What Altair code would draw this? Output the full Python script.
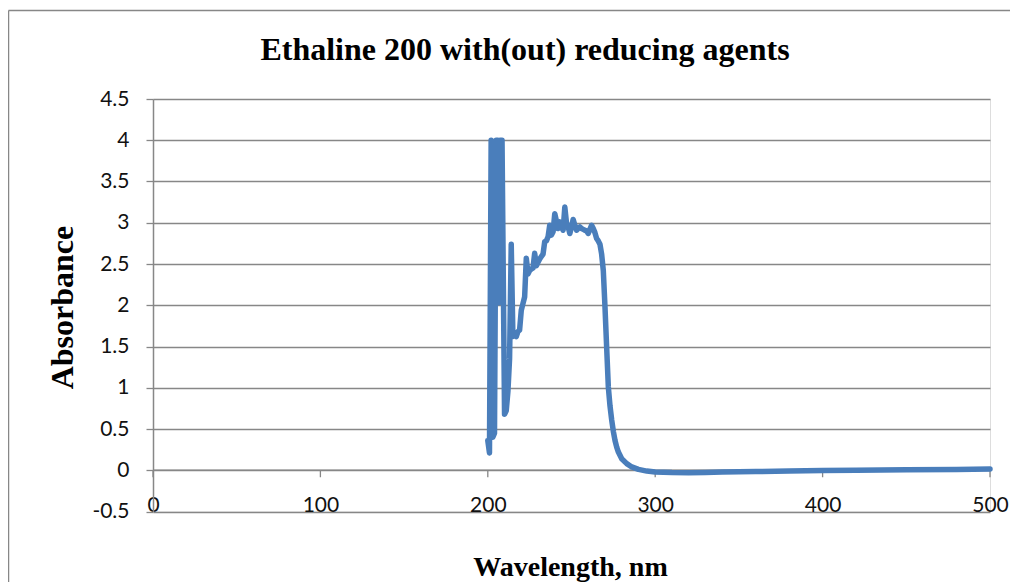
import altair as alt
import pandas as pd

# ---- data ----
wavelength = [200, 201, 202, 203, 204, 205, 206, 206.6, 207.3, 208.5, 210, 211, 212, 213, 214,
              215, 216, 217, 218, 219, 220, 221, 222, 223, 224, 225, 226, 227, 228, 229,
              230, 231, 232, 233, 234, 235, 236, 237, 238, 239, 240, 241, 242, 243, 244,
              245, 246, 247, 248, 249, 250, 251, 252, 253, 254, 255, 256, 257, 258, 259,
              260, 261, 262, 263, 264, 265, 266, 267, 268, 269, 270, 271, 272, 273, 274,
              275, 276, 277, 278, 280, 283, 286, 290, 295, 300, 310, 320, 330, 340, 350,
              360, 380, 400, 420, 450, 480, 500]
absorbance = [0.36, 0.21, 4.0, 0.40, 0.45, 4.0, 4.0, 2.03, 4.0, 4.0, 0.68, 0.72, 0.95, 1.35, 2.74,
              1.62, 1.64, 1.62, 1.68, 1.70, 1.94, 2.02, 2.10, 2.57, 2.38, 2.42, 2.44, 2.45, 2.63, 2.48,
              2.52, 2.56, 2.59, 2.62, 2.77, 2.78, 2.83, 2.97, 2.85, 2.89, 3.11, 3.02, 2.93, 3.01, 2.95,
              2.91, 3.19, 3.00, 2.95, 2.87, 2.95, 3.04, 2.97, 2.91, 2.93, 2.95, 2.93, 2.92, 2.91, 2.90,
              2.87, 2.92, 2.97, 2.93, 2.88, 2.81, 2.78, 2.74, 2.62, 2.42, 1.98, 1.49, 1.01, 0.78, 0.61,
              0.47, 0.36, 0.28, 0.22, 0.14, 0.08, 0.04, 0.01, -0.01, -0.02, -0.028, -0.03, -0.027, -0.022, -0.018,
              -0.015, -0.01, -0.004, 0.0, 0.006, 0.01, 0.014]
x_ticks = [0, 100, 200, 300, 400, 500]
y_ticks = [-0.5, 0, 0.5, 1, 1.5, 2, 2.5, 3, 3.5, 4, 4.5]

title_text = "Ethaline 200 with(out) reducing agents"
x_title = "Wavelength, nm"
y_title = "Absorbance"

GRAY = "#878787"
LINE = "#4A7EBB"
W, H = 837, 412.5

spec_df = pd.DataFrame({"wl": wavelength, "A": absorbance})
axis_df = pd.DataFrame({"wl": [x_ticks[0]], "wl2": [x_ticks[-1]], "A": [0.0]})
tick_df = pd.DataFrame({"wl": x_ticks, "A": [0.0] * len(x_ticks)})
one_df = pd.DataFrame({"label": [title_text]})

x_axis = alt.Axis(
    values=x_ticks, grid=False, ticks=False, tickSize=0, domain=False,
    labelFont="Lato", labelFontSize=21, labelColor="#111111",
    labelBaseline="alphabetic", labelPadding=0, labelFlush=False, labelOverlap=False,
    title=x_title, titleFont="Liberation Serif", titleFontSize=28, titleFontWeight="bold",
    titleColor="#000000", titleX=417, titleY=64, titleAlign="center",
    titleBaseline="alphabetic",
)
y_axis = alt.Axis(
    values=y_ticks, grid=True, gridColor=GRAY, gridWidth=1.4,
    domain=True, domainColor=GRAY, domainWidth=1.5,
    ticks=True, tickColor=GRAY, tickSize=7, tickWidth=1.3,
    labelFont="Lato", labelFontSize=21, labelColor="#111111", labelPadding=17,
    labelExpr="datum.value + ''", labelOverlap=False, labelFlush=False,
    labelBaseline="middle",
    title=y_title, titleFont="Liberation Serif", titleFontSize=32, titleFontWeight="bold",
    titleColor="#000000", titleX=-91, titleY=208, titleAngle=-90,
    titleAlign="center", titleBaseline="middle",
)

x_enc = alt.X("wl:Q", scale=alt.Scale(domain=[0, 500], nice=False, zero=False), axis=x_axis)
y_enc = alt.Y("A:Q", scale=alt.Scale(domain=[-0.5, 4.5], nice=False, zero=False), axis=y_axis)

# outer chart frame (only left and top edges are visible in the reference)
frame_left = alt.Chart(one_df).mark_rule(color=GRAY, strokeWidth=1.5).encode(
    x=alt.value(-144.5), y=alt.value(-88.5), y2=alt.value(500)
)
frame_top = alt.Chart(one_df).mark_rule(color=GRAY, strokeWidth=1.5).encode(
    x=alt.value(-144.5), x2=alt.value(900), y=alt.value(-88.5)
)

title = alt.Chart(one_df).mark_text(
    font="Liberation Serif", fontSize=32, fontWeight="bold", color="#000000",
    align="center", baseline="alphabetic"
).encode(x=alt.value(372), y=alt.value(-39), text="label:N")

zero_axis = alt.Chart(axis_df).mark_rule(color=GRAY, strokeWidth=1.5).encode(
    x=x_enc, x2="wl2:Q", y=y_enc
)

x_tickmarks = alt.Chart(tick_df).mark_rule(color=GRAY, strokeWidth=1.3, y2Offset=7).encode(
    x=x_enc, y=y_enc, y2="A:Q"
)

line = alt.Chart(spec_df).mark_line(
    color=LINE, strokeWidth=5.5, strokeJoin="round", strokeCap="round"
).encode(x=x_enc, y=y_enc, order="wl:Q")

chart = alt.layer(frame_left, frame_top, title, zero_axis, x_tickmarks, line).properties(
    width=W, height=H,
    autosize=alt.AutoSizeParams(type="none"),
    padding={"left": 145, "top": 91, "right": 20, "bottom": 70},
).configure_view(stroke=None, clip=False).configure(background="white")

chart.save("out.html", embed_options={"renderer": "svg", "actions": False})
